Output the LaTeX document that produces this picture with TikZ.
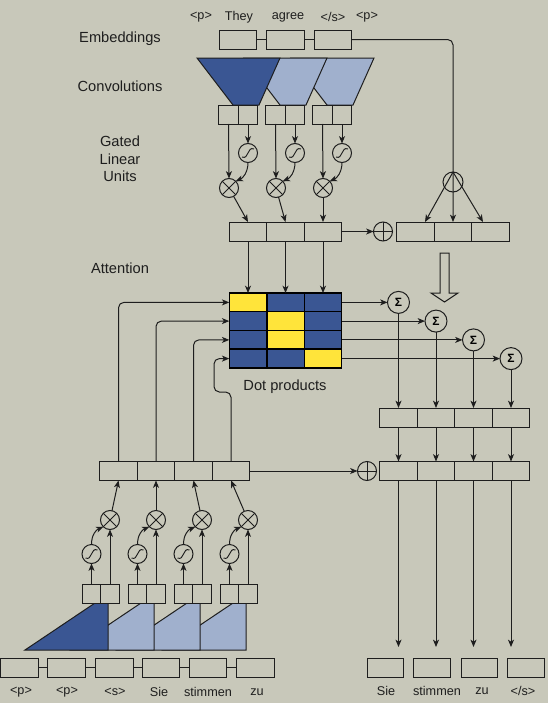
\documentclass[tikz,border=0pt]{standalone}
\usepackage{fontspec}
\setmainfont{Liberation Sans}
\usetikzlibrary{arrows.meta}
\definecolor{bg}{RGB}{200,200,186}
\definecolor{dblue}{RGB}{58,86,147}
\definecolor{lblue}{RGB}{160,176,205}
\definecolor{yel}{RGB}{255,228,58}
\definecolor{ink}{RGB}{30,30,30}
\begin{document}
\begin{tikzpicture}[x=0.75pt,y=-0.75pt,
  ln/.style={line width=0.75pt, draw=ink},
  arr/.style={ln,-{Stealth[length=5.5pt,width=4.5pt,inset=1.5pt]}},
  cell/.style={draw=ink,fill=bg,line width=0.75pt,minimum width=28.1pt,minimum height=14.25pt,inner sep=0pt,outer sep=0pt},
  half/.style={cell,minimum width=14.4pt},
  mcell/.style={draw=black,line width=1.1pt,minimum width=28.1pt,minimum height=14.06pt,inner sep=0pt,outer sep=0pt},
  op/.style={circle,draw=ink,line width=0.75pt,minimum size=14.25pt,inner sep=0pt,outer sep=0pt},
  times/.style={op,path picture={\draw[line width=0.75pt,ink] (path picture bounding box.north west) -- (path picture bounding box.south east) (path picture bounding box.north east) -- (path picture bounding box.south west);}},
  plus/.style={op,path picture={\draw[line width=0.75pt,ink] (path picture bounding box.north) -- (path picture bounding box.south) (path picture bounding box.east) -- (path picture bounding box.west);}},
  sumop/.style={op,minimum size=16.5pt,font=\fontsize{9}{10}\selectfont\bfseries},
  sigm/.pic={\draw[line width=0.7pt,ink] (-6,4) .. controls (1,7) and (-1,-7) .. (6,-4);},
  lbl/.style={font=\fontsize{11}{13}\selectfont, align=center, inner sep=0pt, text=ink},
  tok/.style={font=\fontsize{9.5}{11}\selectfont, inner sep=0pt, text=ink},
]
\fill[bg] (0,0) rectangle (548,703);
\useasboundingbox (0,0) rectangle (548,703);

% ---------- left labels ----------
\node[lbl] (lemb) at (120,39) {Embeddings};
\node[lbl] (lconv) at (120,86) {Convolutions};
\node[lbl] (lglu) at (120,159) {Gated\\Linear\\Units};
\node[lbl] (latt) at (120,268) {Attention};
\node[lbl] (ldot) at (285,387) {Dot products};

% ---------- encoder tokens ----------
\node[tok] (t1) at (201,17) {<p>};
\node[tok] (t2) at (239,17) {They};
\node[tok] (t3) at (288,17) {agree};
\node[tok] (t4) at (333,17) {</s>};
\node[tok] (t5) at (367,17) {<p>};

% ---------- encoder embeddings ----------
\node[cell] (e1) at (238,39.5) {};
\node[cell] (e2) at (285.5,39.5) {};
\node[cell] (e3) at (333,39.5) {};
\draw[ln] (e1.east) -- (e2.west);
\draw[ln] (e2.east) -- (e3.west);

% ---------- encoder convolutions ----------
\foreach \k/\c in {2/lblue,1/lblue,0/dblue}
  \filldraw[fill=\c, ln] ({197+47*\k},58) -- ({280+47*\k},58) -- ({259+47*\k},105) -- ({233+47*\k},105) -- cycle;

% ---------- encoder GLU ----------
\foreach \k in {1,2,3} {
  \node[half] (ea\k) at ({228.5+47*(\k-1)},114.5) {};
  \node[half] (eb\k) at ({248+47*(\k-1)},114.5) {};
  \node[op] (es\k) at ({248+47*(\k-1)},153) {};
  \pic at (es\k) {sigm};
  \node[times] (ex\k) at ({229+47*(\k-1)},188) {};
  \draw[arr] (ea\k.south) -- (ex\k.north);
  \draw[arr] (eb\k.south) -- (es\k.north);
  \draw[arr] (es\k.south) .. controls +(0,10) and +(7,-3) .. (ex\k.45);
  \node[cell] (eo\k) at ({248+37.5*(\k-1)},231.5) {};
  \draw[arr] (ex\k) -- (eo\k.north);
}

% ---------- residual embedding path ----------
\node[plus] (ep) at (383,231.5) {};
\draw[arr] (eo3.east) -- (ep.west);
\foreach \k in {1,2,3}
  \node[cell] (r\k) at ({415.5+37.5*(\k-1)},231.5) {};
\node[op,minimum size=15pt] (sp) at (453,182) {};
\draw[arr, rounded corners=4pt] (e3.east) -- (453,39.5) -- (r2.north);
\coordinate (rl) at (425,222);
\coordinate (rr) at (483,222);
\draw[arr] (sp.north) -- (rl);
\draw[arr] (sp.north) -- (rr);

% hollow arrow
\filldraw[fill=bg, ln] (440,253) -- (449,253) -- (449,293) -- (458,293) -- (444.5,302) -- (431,293) -- (440,293) -- cycle;

% ---------- attention matrix ----------
\foreach \r/\y/\ca/\cb/\cc in {1/302.4/yel/dblue/dblue, 2/321.1/dblue/yel/dblue, 3/339.9/dblue/yel/dblue, 4/358.6/dblue/dblue/yel} {
  \node[mcell, fill=\ca] (m\r1) at (248,\y) {};
  \node[mcell, fill=\cb] (m\r2) at (285.5,\y) {};
  \node[mcell, fill=\cc] (m\r3) at (323,\y) {};
}
\foreach \k in {1,2,3}
  \draw[arr] (eo\k.south) -- (m1\k.north);

% ---------- sums and decoder outputs ----------
\foreach \r/\x/\y in {1/398.5/302.4, 2/436/321.1, 3/473.5/339.9, 4/511/358.6} {
  \node[sumop] (sg\r) at (\x,\y) {Σ};
  \draw[arr] (m\r3.east) -- (sg\r.west);
  \node[cell] (u\r) at (\x,417.5) {};
  \node[cell] (l\r) at (\x,471) {};
  \coordinate (tip\r) at (\x,647);
  \draw[arr] (sg\r.south) -- (u\r.north);
  \draw[arr] (u\r.south) -- (l\r.north);
  \draw[arr] (l\r.south) -- (tip\r);
}
\node[plus] (dp) at (367,471) {};

% output tokens
\node[cell,minimum width=27pt] (o1) at (385,667.5) {};
\node[cell,minimum width=28pt] (o2) at (432,667.5) {};
\node[cell,minimum width=27pt] (o3) at (479,667.5) {};
\node[cell,minimum width=28pt] (o4) at (526,667.5) {};
\node[tok] (ot1) at (386,691) {Sie};
\node[tok] (ot2) at (437,691) {stimmen};
\node[tok] (ot3) at (482,691) {zu};
\node[tok] (ot4) at (523,691) {</s>};

% ---------- decoder ----------
\foreach \k in {1,2,3,4}
  \node[cell] (d\k) at ({118.5+37.5*(\k-1)},471) {};
\draw[arr] (d4.east) -- (dp.west);

\draw[arr, rounded corners=4pt] (d1.north) |- (m11.west);
\draw[arr, rounded corners=4pt] (d2.north) |- (m21.west);
\draw[arr, rounded corners=4pt] (d3.north) |- (m31.west);
\draw[arr, rounded corners=4pt] (d4.north) -- (231,392) -- (214,392) -- (214,358.6) -- (m41.west);

% decoder convolutions
\foreach \k/\c in {3/lblue,2/lblue,1/lblue,0/dblue}
  \filldraw[fill=\c, ln] ({25+46*\k},650) -- ({95+46*\k},603) -- ({108+46*\k},603) -- ({108+46*\k},650) -- cycle;

% decoder GLU
\foreach \k in {1,2,3,4} {
  \node[half,minimum width=13.9pt] (da\k) at ({91.5+46*(\k-1)},593.5) {};
  \node[half,minimum width=13.9pt] (db\k) at ({110+46*(\k-1)},593.5) {};
  \node[op] (ds\k) at ({91.5+46*(\k-1)},554) {};
  \pic at (ds\k) {sigm};
  \node[times] (dx\k) at ({110+46*(\k-1)},520) {};
  \draw[arr] (da\k.north) -- (ds\k.south);
  \draw[arr] (db\k.north) -- (dx\k.south);
  \draw[arr] (ds\k.north) .. controls +(0,-10) and +(-7,3) .. (dx\k.225);
  \draw[arr] (dx\k) -- (d\k.south);
}

% decoder input tokens
\foreach \k/\x in {1/19.5,2/66.5,3/114.5,4/161,5/208,6/255.5}
  \node[cell] (b\k) at (\x,667.5) {};
\foreach \a/\b in {1/2,2/3,3/4,4/5,5/6}
  \draw[ln] (b\a.east) -- (b\b.west);
\node[tok] (bt1) at (21,692) {<p>};
\node[tok] (bt2) at (67,692) {<p>};
\node[tok] (bt3) at (115,692) {<s>};
\node[tok] (bt4) at (159,692) {Sie};
\node[tok] (bt5) at (208,692) {stimmen};
\node[tok] (bt6) at (257,692) {zu};
\end{tikzpicture}
\end{document}
